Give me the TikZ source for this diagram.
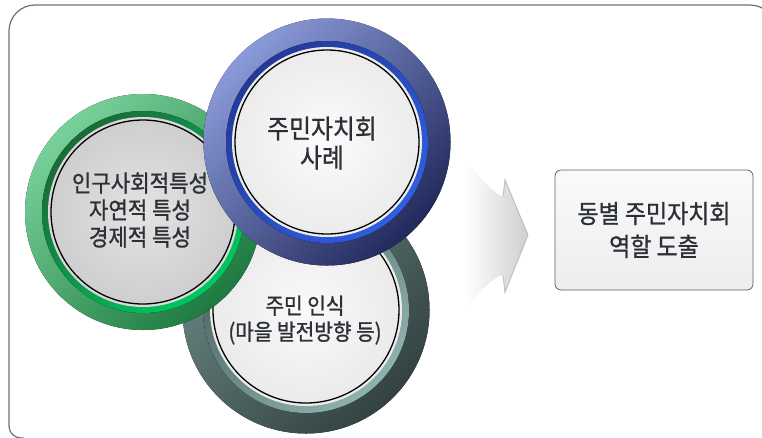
\documentclass[tikz,border=0pt]{standalone}
\usepackage{fontspec}
\usepackage{xcolor}
\newfontfamily\kofont[FakeStretch=0.9,FakeBold=1]{Noto Sans CJK KR}
\usetikzlibrary{positioning,shadings}

\definecolor{txtgray}{HTML}{2B2F36}
\definecolor{framegray}{HTML}{707070}
\definecolor{grnhi}{HTML}{78D09A}
\definecolor{grnlo}{HTML}{1E7A40}
\definecolor{grnband}{HTML}{00C860}
\definecolor{grnbanddk}{HTML}{1A6A38}
\definecolor{bluhi}{HTML}{8A9AD8}
\definecolor{blulo}{HTML}{222A5C}
\definecolor{bluband}{HTML}{2F5EE0}
\definecolor{blubanddk}{HTML}{23399A}
\definecolor{gryhi}{HTML}{6A8886}
\definecolor{grylo}{HTML}{334240}
\definecolor{gryband}{HTML}{8FB2B0}
\definecolor{grybanddk}{HTML}{4A6260}

\begin{document}
\begin{tikzpicture}[x=1pt,y=-1pt]
\tikzstyle{every node}+=[inner sep=0pt]
\tikzstyle{circtext}=[align=center, text=txtgray]
\tikzstyle{disk}=[draw=black, line width=1.3pt]
\useasboundingbox (0,0) rectangle (762,437);
\draw [framegray, line width=1.2pt] (24,438) [rounded corners=12pt] -- (9,438) [rounded corners=26pt] -- (9,5) -- (776,5) -- (776,60);
\coordinate (soc) at (143,212);
\coordinate (case) at (327,142);
\coordinate (aware) at (306,310);
% bottom circle
\fill [top color=gryhi, bottom color=grylo, shading angle=45] (aware) circle (123.5pt);
\fill [top color=grybanddk, bottom color=gryband, shading angle=45] (aware) circle (103pt);
\fill [white!85!gray] (aware) circle (96pt);
\shade [disk, inner color=white!96!gray, outer color=white!84!gray] (aware) circle (93pt);
\node [circtext, font=\kofont\fontsize{22.5}{26}\selectfont] (awaretxt) at (305,320) {주민 인식\\(마을 발전방향 등)};
% left circle
\fill [top color=grnhi, bottom color=grnlo, shading angle=45] (soc) circle (118pt);
\fill [top color=grnbanddk, bottom color=grnband, shading angle=45] (soc) circle (101pt);
\fill [white!70!gray] (soc) circle (95pt);
\shade [disk, inner color=white!78!gray, outer color=white!62!gray] (soc) circle (92pt);
\node [circtext, font=\kofont\fontsize{23.5}{27}\selectfont] (soctxt) at (140,210) {인구사회적특성\\자연적 특성\\경제적 특성};
% top circle
\fill [top color=bluhi, bottom color=blulo, shading angle=45] (case) circle (123.5pt);
\fill [top color=blubanddk, bottom color=bluband, shading angle=45] (case) circle (101pt);
\fill [white!85!gray] (case) circle (95pt);
\shade [disk, inner color=white!97!gray, outer color=white!85!gray] (case) circle (92pt);
\node [circtext, font=\kofont\fontsize{26.5}{29}\selectfont] (casetxt) at (322,143) {주민자치회\\사례};
% arrow
\coordinate (tl) at (465,160);
\coordinate (bl) at (465,310);
\shade [left color=white, right color=gray!38] (tl) .. controls (485,185) and (495,193) .. (503,197) -- (505,180) -- (528,235) -- (505,292) -- (503,275) .. controls (495,277) and (485,285) .. (bl) -- cycle;
\draw [gray!50, line width=1pt] (503,197) -- (505,180) -- (528,235) -- (505,292) -- (503,275);
% result
\node [draw=gray!75!black, line width=0.8pt, rounded corners=6pt, minimum width=198pt, minimum height=120pt, top color=white!96!gray, bottom color=white!86!gray] (result) at (654,230) {};
\node [circtext, font=\kofont\fontsize{25.5}{33}\selectfont] (resulttxt) at (result) {동별 주민자치회\\역할 도출};
\end{tikzpicture}
\end{document}
